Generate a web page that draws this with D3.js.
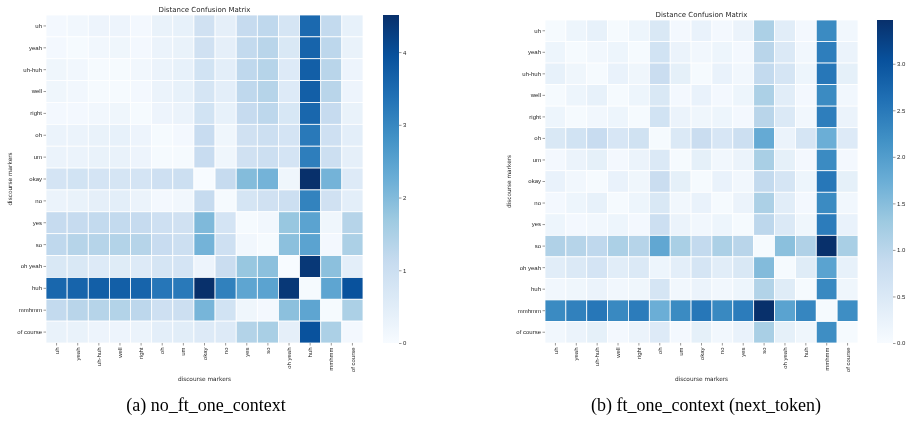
<!DOCTYPE html>
<html>
<head>
<meta charset="utf-8">
<script src="https://cdn.jsdelivr.net/npm/d3@7"></script>
<style>
    body { margin: 0; background: #fff; }
    svg { display: block; font-family: "DejaVu Sans", sans-serif; will-change: transform; }
    text { -webkit-font-smoothing: antialiased; }
    .tick text { fill: #262626; }
    .tick line { stroke: #555; stroke-width: 0.6; }
    .caption { font-family: "Liberation Serif", "Times New Roman", serif; fill: #000; }
</style>
</head>
<body>
<script>
//row and column categories (same for both matrices)
var markers = ["uh", "yeah", "uh-huh", "well", "right", "oh", "um", "okay", "no",
    "yes", "so", "oh yeah", "huh", "mmhmm", "of course"];

//(a) no_ft_one_context distances, one row per marker
var distancesA = [
    [0.09, 0.14, 0.23, 0.23, 0.09, 0.32, 0.36, 0.90, 0.41, 1.13, 1.22, 0.77, 3.52, 1.17, 0.36],
    [0.09, 0.05, 0.14, 0.18, 0.09, 0.27, 0.32, 0.90, 0.41, 1.17, 1.31, 0.68, 3.61, 1.26, 0.32],
    [0.18, 0.14, 0.05, 0.05, 0.14, 0.27, 0.36, 0.86, 0.45, 1.22, 1.35, 0.59, 3.70, 1.31, 0.23],
    [0.18, 0.14, 0.05, 0.05, 0.09, 0.27, 0.36, 0.77, 0.45, 1.22, 1.35, 0.59, 3.70, 1.31, 0.23],
    [0.09, 0.09, 0.14, 0.18, 0.05, 0.23, 0.27, 0.86, 0.36, 1.13, 1.26, 0.72, 3.56, 1.13, 0.32],
    [0.27, 0.27, 0.32, 0.36, 0.23, 0.05, 0.09, 1.08, 0.18, 0.90, 0.99, 0.81, 3.25, 0.95, 0.45],
    [0.27, 0.27, 0.32, 0.32, 0.23, 0.05, 0.05, 1.08, 0.18, 0.90, 0.99, 0.81, 3.16, 0.99, 0.41],
    [0.81, 0.86, 0.81, 0.77, 0.81, 0.95, 0.99, 0.00, 1.13, 1.98, 2.16, 0.18, 4.51, 2.16, 0.59],
    [0.27, 0.32, 0.41, 0.45, 0.27, 0.09, 0.14, 1.13, 0.05, 0.77, 0.90, 0.99, 3.07, 0.90, 0.45],
    [1.13, 1.13, 1.17, 1.17, 1.13, 0.95, 0.90, 2.03, 0.81, 0.05, 0.14, 1.76, 2.48, 0.18, 1.35],
    [1.22, 1.35, 1.35, 1.40, 1.35, 1.08, 0.99, 2.16, 0.95, 0.14, 0.05, 1.89, 2.48, 0.09, 1.49],
    [0.68, 0.68, 0.59, 0.54, 0.59, 0.77, 0.81, 0.23, 1.04, 1.76, 1.89, 0.00, 4.37, 1.89, 0.45],
    [3.56, 3.61, 3.70, 3.70, 3.61, 3.29, 3.25, 4.51, 3.11, 2.44, 2.48, 4.37, 0.05, 2.44, 3.92],
    [1.17, 1.31, 1.35, 1.40, 1.26, 0.95, 0.99, 2.12, 0.86, 0.18, 0.09, 1.89, 2.44, 0.05, 1.49],
    [0.32, 0.32, 0.23, 0.23, 0.27, 0.45, 0.50, 0.59, 0.59, 1.40, 1.53, 0.41, 3.92, 1.49, 0.09]
];

//(b) ft_one_context (next_token) distances
var distancesB = [
    [0.03, 0.17, 0.28, 0.03, 0.17, 0.52, 0.07, 0.24, 0.07, 0.21, 1.15, 0.38, 0.07, 2.26, 0.10],
    [0.17, 0.03, 0.10, 0.17, 0.03, 0.66, 0.21, 0.10, 0.17, 0.07, 1.01, 0.49, 0.10, 2.43, 0.21],
    [0.28, 0.14, 0.03, 0.24, 0.14, 0.80, 0.31, 0.03, 0.24, 0.10, 0.90, 0.59, 0.17, 2.53, 0.31],
    [0.03, 0.17, 0.28, 0.03, 0.17, 0.52, 0.07, 0.24, 0.07, 0.17, 1.15, 0.38, 0.07, 2.26, 0.10],
    [0.17, 0.03, 0.10, 0.17, 0.03, 0.66, 0.21, 0.14, 0.17, 0.07, 1.01, 0.49, 0.10, 2.43, 0.21],
    [0.52, 0.66, 0.83, 0.56, 0.69, 0.03, 0.49, 0.80, 0.56, 0.76, 1.80, 0.21, 0.59, 1.74, 0.45],
    [0.07, 0.21, 0.31, 0.07, 0.21, 0.49, 0.03, 0.31, 0.10, 0.21, 1.18, 0.31, 0.07, 2.26, 0.07],
    [0.24, 0.10, 0.03, 0.24, 0.14, 0.80, 0.31, 0.03, 0.24, 0.10, 0.90, 0.59, 0.17, 2.53, 0.31],
    [0.07, 0.17, 0.28, 0.03, 0.17, 0.52, 0.10, 0.24, 0.03, 0.21, 1.15, 0.38, 0.07, 2.26, 0.10],
    [0.17, 0.07, 0.10, 0.17, 0.07, 0.76, 0.21, 0.10, 0.17, 0.03, 0.97, 0.49, 0.14, 2.46, 0.24],
    [1.11, 1.04, 0.94, 1.15, 1.04, 1.84, 1.18, 0.90, 1.15, 1.01, 0.03, 1.46, 1.11, 3.47, 1.18],
    [0.38, 0.49, 0.62, 0.38, 0.49, 0.17, 0.35, 0.59, 0.38, 0.52, 1.53, 0.03, 0.42, 1.91, 0.28],
    [0.10, 0.14, 0.21, 0.10, 0.14, 0.59, 0.10, 0.21, 0.10, 0.17, 1.08, 0.42, 0.03, 2.29, 0.14],
    [2.26, 2.39, 2.53, 2.29, 2.46, 1.74, 2.26, 2.53, 2.29, 2.46, 3.47, 1.91, 2.32, 0.03, 2.22],
    [0.10, 0.21, 0.31, 0.07, 0.21, 0.45, 0.07, 0.31, 0.10, 0.24, 1.18, 0.31, 0.14, 2.22, 0.03]
];

//colorbar ranges and ticks
var maxA = 4.51, maxB = 3.47;
var ticksA = [0, 1, 2, 3, 4];
var ticksB = [0, 0.5, 1, 1.5, 2, 2.5, 3];

var title = "Distance Confusion Matrix";
var axisTitle = "discourse markers";
var captionA = "(a) no_ft_one_context";
var captionB = "(b) ft_one_context (next_token)";

//matplotlib "Blues" anchor colors
var bluesColors = ["#f7fbff", "#deebf7", "#c6dbef", "#9ecae1", "#6baed6",
    "#4292c6", "#2171b5", "#08519c", "#08306b"];

window.onload = setPage();

function setPage(){
    var svg = d3.select("body")
        .append("svg")
        .attr("width", 913)
        .attr("height", 421);

    //white backdrop
    svg.append("rect")
        .attr("width", 913)
        .attr("height", 421)
        .style("fill", "#fff");

    drawPanel(svg, "a", distancesA, maxA, ticksA, d3.format("d"), captionA,
        {x0: 46, x1: 363, y0: 15, y1: 343, barX: 383, titleY: 11.5, ylabX: 11.5, capX: 206});

    drawPanel(svg, "b", distancesB, maxB, ticksB, d3.format(".1f"), captionB,
        {x0: 545, x1: 858, y0: 20, y1: 343, barX: 877, titleY: 16.5, ylabX: 510.5, capX: 706});
};

//draw one heatmap with its colorbar and caption
function drawPanel(svg, id, matrix, vmax, ticks, fmt, caption, f){
    var g = svg.append("g").attr("class", "panel-" + id);

    var x = d3.scaleBand().domain(markers).range([f.x0, f.x1]);
    var y = d3.scaleBand().domain(markers).range([f.y0, f.y1]);

    var color = d3.scaleLinear()
        .domain(d3.range(bluesColors.length).map(function(i){ return i / (bluesColors.length - 1) * vmax; }))
        .range(bluesColors)
        .clamp(true);

    //flatten to cells
    var cells = [];
    matrix.forEach(function(row, i){
        row.forEach(function(v, j){
            cells.push({row: markers[i], col: markers[j], value: v});
        });
    });

    g.selectAll(".cell")
        .data(cells)
        .enter()
        .append("rect")
        .attr("class", "cell")
        .attr("x", function(d){ return x(d.col); })
        .attr("y", function(d){ return y(d.row); })
        .attr("width", x.bandwidth())
        .attr("height", y.bandwidth())
        .style("fill", function(d){ return color(d.value); })
        .style("stroke", "#fff")
        .style("stroke-width", 0.8);

    //title
    g.append("text")
        .attr("x", (f.x0 + f.x1) / 2)
        .attr("y", f.titleY)
        .attr("text-anchor", "middle")
        .style("font-size", "7px")
        .style("fill", "#262626")
        .text(title);

    //y axis
    var yAxis = g.append("g")
        .attr("transform", "translate(" + f.x0 + ",0)")
        .call(d3.axisLeft(y).tickSize(2.5).tickPadding(1.5));
    yAxis.select(".domain").remove();
    yAxis.selectAll("text").style("font-size", "6px");

    //x axis
    var xAxis = g.append("g")
        .attr("transform", "translate(0," + f.y1 + ")")
        .call(d3.axisBottom(x).tickSize(2.5));
    xAxis.select(".domain").remove();
    xAxis.selectAll("text")
        .attr("transform", "rotate(-90)")
        .attr("x", -4.5)
        .attr("y", 0)
        .attr("dy", "0.35em")
        .style("text-anchor", "end")
        .style("font-size", "6px");

    //axis titles
    g.append("text")
        .attr("x", (f.x0 + f.x1) / 2)
        .attr("y", 381)
        .attr("text-anchor", "middle")
        .style("font-size", "5.8px")
        .style("fill", "#262626")
        .text(axisTitle);

    g.append("text")
        .attr("transform", "translate(" + f.ylabX + "," + ((f.y0 + f.y1) / 2) + ") rotate(-90)")
        .attr("text-anchor", "middle")
        .style("font-size", "5.8px")
        .style("fill", "#262626")
        .text(axisTitle);

    //colorbar
    var barW = 16;
    var gradId = "grad-" + id;
    var grad = svg.append("defs")
        .append("linearGradient")
        .attr("id", gradId)
        .attr("x1", 0).attr("y1", 1)
        .attr("x2", 0).attr("y2", 0);
    grad.selectAll("stop")
        .data(bluesColors)
        .enter()
        .append("stop")
        .attr("offset", function(d, i){ return i / (bluesColors.length - 1); })
        .attr("stop-color", function(d){ return d; });

    g.append("rect")
        .attr("x", f.barX)
        .attr("y", f.y0)
        .attr("width", barW)
        .attr("height", f.y1 - f.y0)
        .style("fill", "url(#" + gradId + ")");

    var cScale = d3.scaleLinear().domain([0, vmax]).range([f.y1, f.y0]);
    var cAxis = g.append("g")
        .attr("transform", "translate(" + (f.barX + barW) + ",0)")
        .call(d3.axisRight(cScale).tickValues(ticks).tickFormat(fmt).tickSize(2.5).tickPadding(1.5));
    cAxis.select(".domain").remove();
    cAxis.selectAll("text").style("font-size", "6px");

    //caption under the panel
    g.append("text")
        .attr("class", "caption")
        .attr("x", f.capX)
        .attr("y", 411)
        .attr("text-anchor", "middle")
        .style("font-size", "18px")
        .text(caption);
};
</script>
</body>
</html>
